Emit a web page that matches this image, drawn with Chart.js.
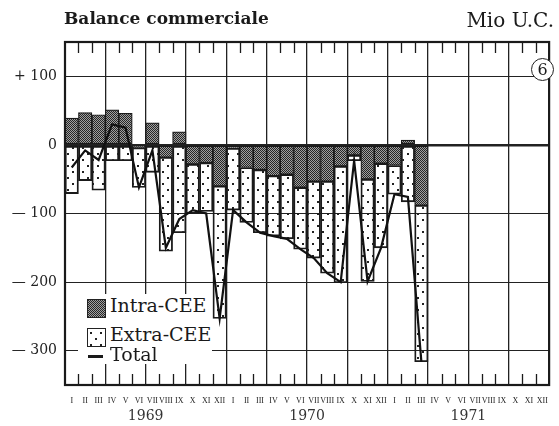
<!DOCTYPE html>
<html>
<head>
<meta charset="utf-8">
<script src="https://cdn.jsdelivr.net/npm/chart.js@4.4.1/dist/chart.umd.min.js"></script>
<style>
  body { margin: 0; background: #fff; }
  #wrap { position: relative; width: 559px; height: 426px; }
  #title { position: absolute; left: 64px; top: 8px; font: bold 17px "DejaVu Serif"; color: #1a1a1a; }
  #unit { position: absolute; right: 5px; top: 8px; font: 20px "DejaVu Serif"; color: #1a1a1a; }
  #num { position: absolute; left: 531px; top: 58px; width: 21px; height: 21px; border: 1.5px solid #222;
         border-radius: 50%; text-align: center; font: 16px/21px "DejaVu Serif"; background: #fff; color: #1a1a1a; }
  #legend { position: absolute; left: 78px; top: 294px; width: 134px; height: 70px; background: #fff; }
  .row { position: absolute; left: 9px; font: 19px "DejaVu Serif"; color: #1a1a1a; white-space: nowrap; }
  .row canvas { position: absolute; left: 0; border: 1.3px solid #222; box-sizing: border-box; }
  .row span { position: absolute; left: 23px; }
  .dash { position: absolute; left: 1px; width: 15px; height: 2.5px; background: #1a1a1a; }
</style>
</head>
<body>
<div id="wrap">
  <canvas id="c" width="559" height="426"></canvas>
  <div id="title">Balance commerciale</div>
  <div id="unit">Mio U.C.</div>
  <div id="num">6</div>
  <div id="legend">
    <div class="row" style="top:4px"><canvas id="sw1" width="17" height="17" style="top:1px"></canvas><span style="top:-4px">Intra-CEE</span></div>
    <div class="row" style="top:33px"><canvas id="sw2" width="17" height="17" style="top:1px"></canvas><span style="top:-4px">Extra-CEE</span></div>
    <div class="row" style="top:53px"><div class="dash" style="top:8px"></div><span style="top:-4px">Total</span></div>
  </div>
</div>
<script>
'use strict';

// month labels, 1969 - 1971
const ROMAN = ['I','II','III','IV','V','VI','VII','VIII','IX','X','XI','XII'];
const MONTHS = ROMAN.concat(ROMAN, ROMAN);
const YEARS = ['1969', '1970', '1971'];
const Y_TICKS = [100, 0, -100, -200, -300];

// Mio U.C.
const intraCEE = [
  39, 47, 44, 51, 46, -4, 32, -18, 19, -28, -26, -60,        // 1969
  -5, -33, -36, -45, -43, -62, -53, -53, -31, -15, -50, -27, // 1970
  -30, 7, -88, null, null, null, null, null, null, null, null, null
];
const extraCEE = [
  -71, -52, -66, -23, -23, -58, -40, -137, -128, -72, -71, -193,
  -90, -80, -92, -88, -94, -90, -112, -134, -170, -8, -149, -123,
  -42, -83, -228, null, null, null, null, null, null, null, null, null
];
const total = [
  -33, -8, -22, 30, 25, -62, -8, -150, -108, -95, -100, -253,
  -95, -113, -128, -133, -137, -152, -165, -187, -200, -23, -199, -150,
  -72, -76, -316, null, null, null, null, null, null, null, null, null
];

function makePattern(w, h, draw) {
  var c = document.createElement('canvas');
  c.width = w; c.height = h;
  var g = c.getContext('2d');
  draw(g);
  return g.createPattern(c, 'repeat');
}

// dark cross-hatch for intra, sparse dots for extra
var intraPattern = makePattern(2, 2, function (g) {
  g.fillStyle = '#a0a0a0'; g.fillRect(0, 0, 2, 2);
  g.fillStyle = '#262626'; g.fillRect(0, 0, 1, 1); g.fillRect(1, 1, 1, 1);
});
var extraPattern = makePattern(10, 12, function (g) {
  g.fillStyle = '#222';
  g.fillRect(2, 3, 2, 2);
  g.fillRect(7, 9, 2, 2);
});

// legend swatches
[['sw1', intraPattern], ['sw2', extraPattern]].forEach(function (s) {
  var g = document.getElementById(s[0]).getContext('2d');
  g.fillStyle = '#fff'; g.fillRect(0, 0, 17, 17);
  g.fillStyle = s[1]; g.fillRect(0, 0, 17, 17);
});

function yLabel(v) {
  if (v > 0) return '+ ' + v;
  if (v < 0) return '\u2014 ' + Math.abs(v);
  return '0';
}

// frame and the short month ticks along top and bottom
const framePlugin = {
  id: 'frame',
  afterDraw: function (chart) {
    var a = chart.chartArea, ctx = chart.ctx;
    var w = (a.right - a.left) / MONTHS.length;
    ctx.save();
    ctx.strokeStyle = '#1a1a1a';
    ctx.lineWidth = 1.3;
    ctx.beginPath();
    for (var i = 1; i < MONTHS.length; i++) {
      if (i % 3 === 0) continue;
      var x = Math.round(a.left + i * w) + 0.5;
      ctx.moveTo(x, a.top); ctx.lineTo(x, a.top + 11);
      ctx.moveTo(x, a.bottom); ctx.lineTo(x, a.bottom - 11);
    }
    ctx.stroke();
    ctx.lineWidth = 2.2;
    ctx.strokeRect(a.left, a.top, a.right - a.left, a.bottom - a.top);
    ctx.restore();
  }
};

new Chart(document.getElementById('c'), {
  type: 'bar',
  data: {
    labels: MONTHS,
    datasets: [
      {
        label: 'Intra-CEE', data: intraCEE, stack: 'bal', order: 1,
        backgroundColor: intraPattern, borderColor: '#1a1a1a', borderWidth: 1.2, borderSkipped: false,
        barPercentage: 1, categoryPercentage: 1
      },
      {
        label: 'Extra-CEE', data: extraCEE, stack: 'bal', order: 2,
        backgroundColor: extraPattern, borderColor: '#1a1a1a', borderWidth: 1.2, borderSkipped: false,
        barPercentage: 1, categoryPercentage: 1
      },
      {
        type: 'line', label: 'Total', data: total, stack: 'tot', order: 0,
        borderColor: '#111', borderWidth: 2.2, pointRadius: 0, tension: 0, fill: false
      }
    ]
  },
  options: {
    responsive: false,
    animation: false,
    devicePixelRatio: 1,
    layout: { padding: { left: 0, right: 4, top: 42, bottom: 0 } },
    plugins: { legend: { display: false }, tooltip: { enabled: false } },
    scales: {
      x: {
        stacked: true,
        weight: 0,
        grid: {
          offset: true, drawTicks: false, lineWidth: 1.3,
          color: function (c) { return c.index % 3 === 0 ? '#222' : 'rgba(0,0,0,0)'; }
        },
        border: { display: false },
        ticks: { autoSkip: false, maxRotation: 0, padding: 11, color: '#1a1a1a',
                 font: { family: 'Liberation Serif', size: 8 } },
        afterFit: function (s) { s.height = 22; }
      },
      // one label per year, centred on its twelve months
      x2: {
        type: 'category', labels: YEARS, offset: true, position: 'bottom', weight: 1,
        grid: { display: false, drawTicks: false }, border: { display: false },
        ticks: { padding: 1, color: '#333', font: { family: 'DejaVu Serif', size: 14 }, maxRotation: 0 },
        afterFit: function (s) { s.height = 19; }
      },
      y: {
        stacked: true, min: -350, max: 150,
        afterBuildTicks: function (s) { s.ticks = Y_TICKS.map(function (v) { return { value: v }; }); },
        grid: { color: '#222', drawTicks: false,
                lineWidth: function (c) { return c.tick && c.tick.value === 0 ? 2.4 : 1.1; } },
        border: { display: false },
        ticks: { padding: 8, color: '#222', font: { family: 'DejaVu Serif', size: 14 }, callback: yLabel },
        afterFit: function (s) { s.width = 65; }
      }
    }
  },
  plugins: [framePlugin]
});
</script>
</body>
</html>
